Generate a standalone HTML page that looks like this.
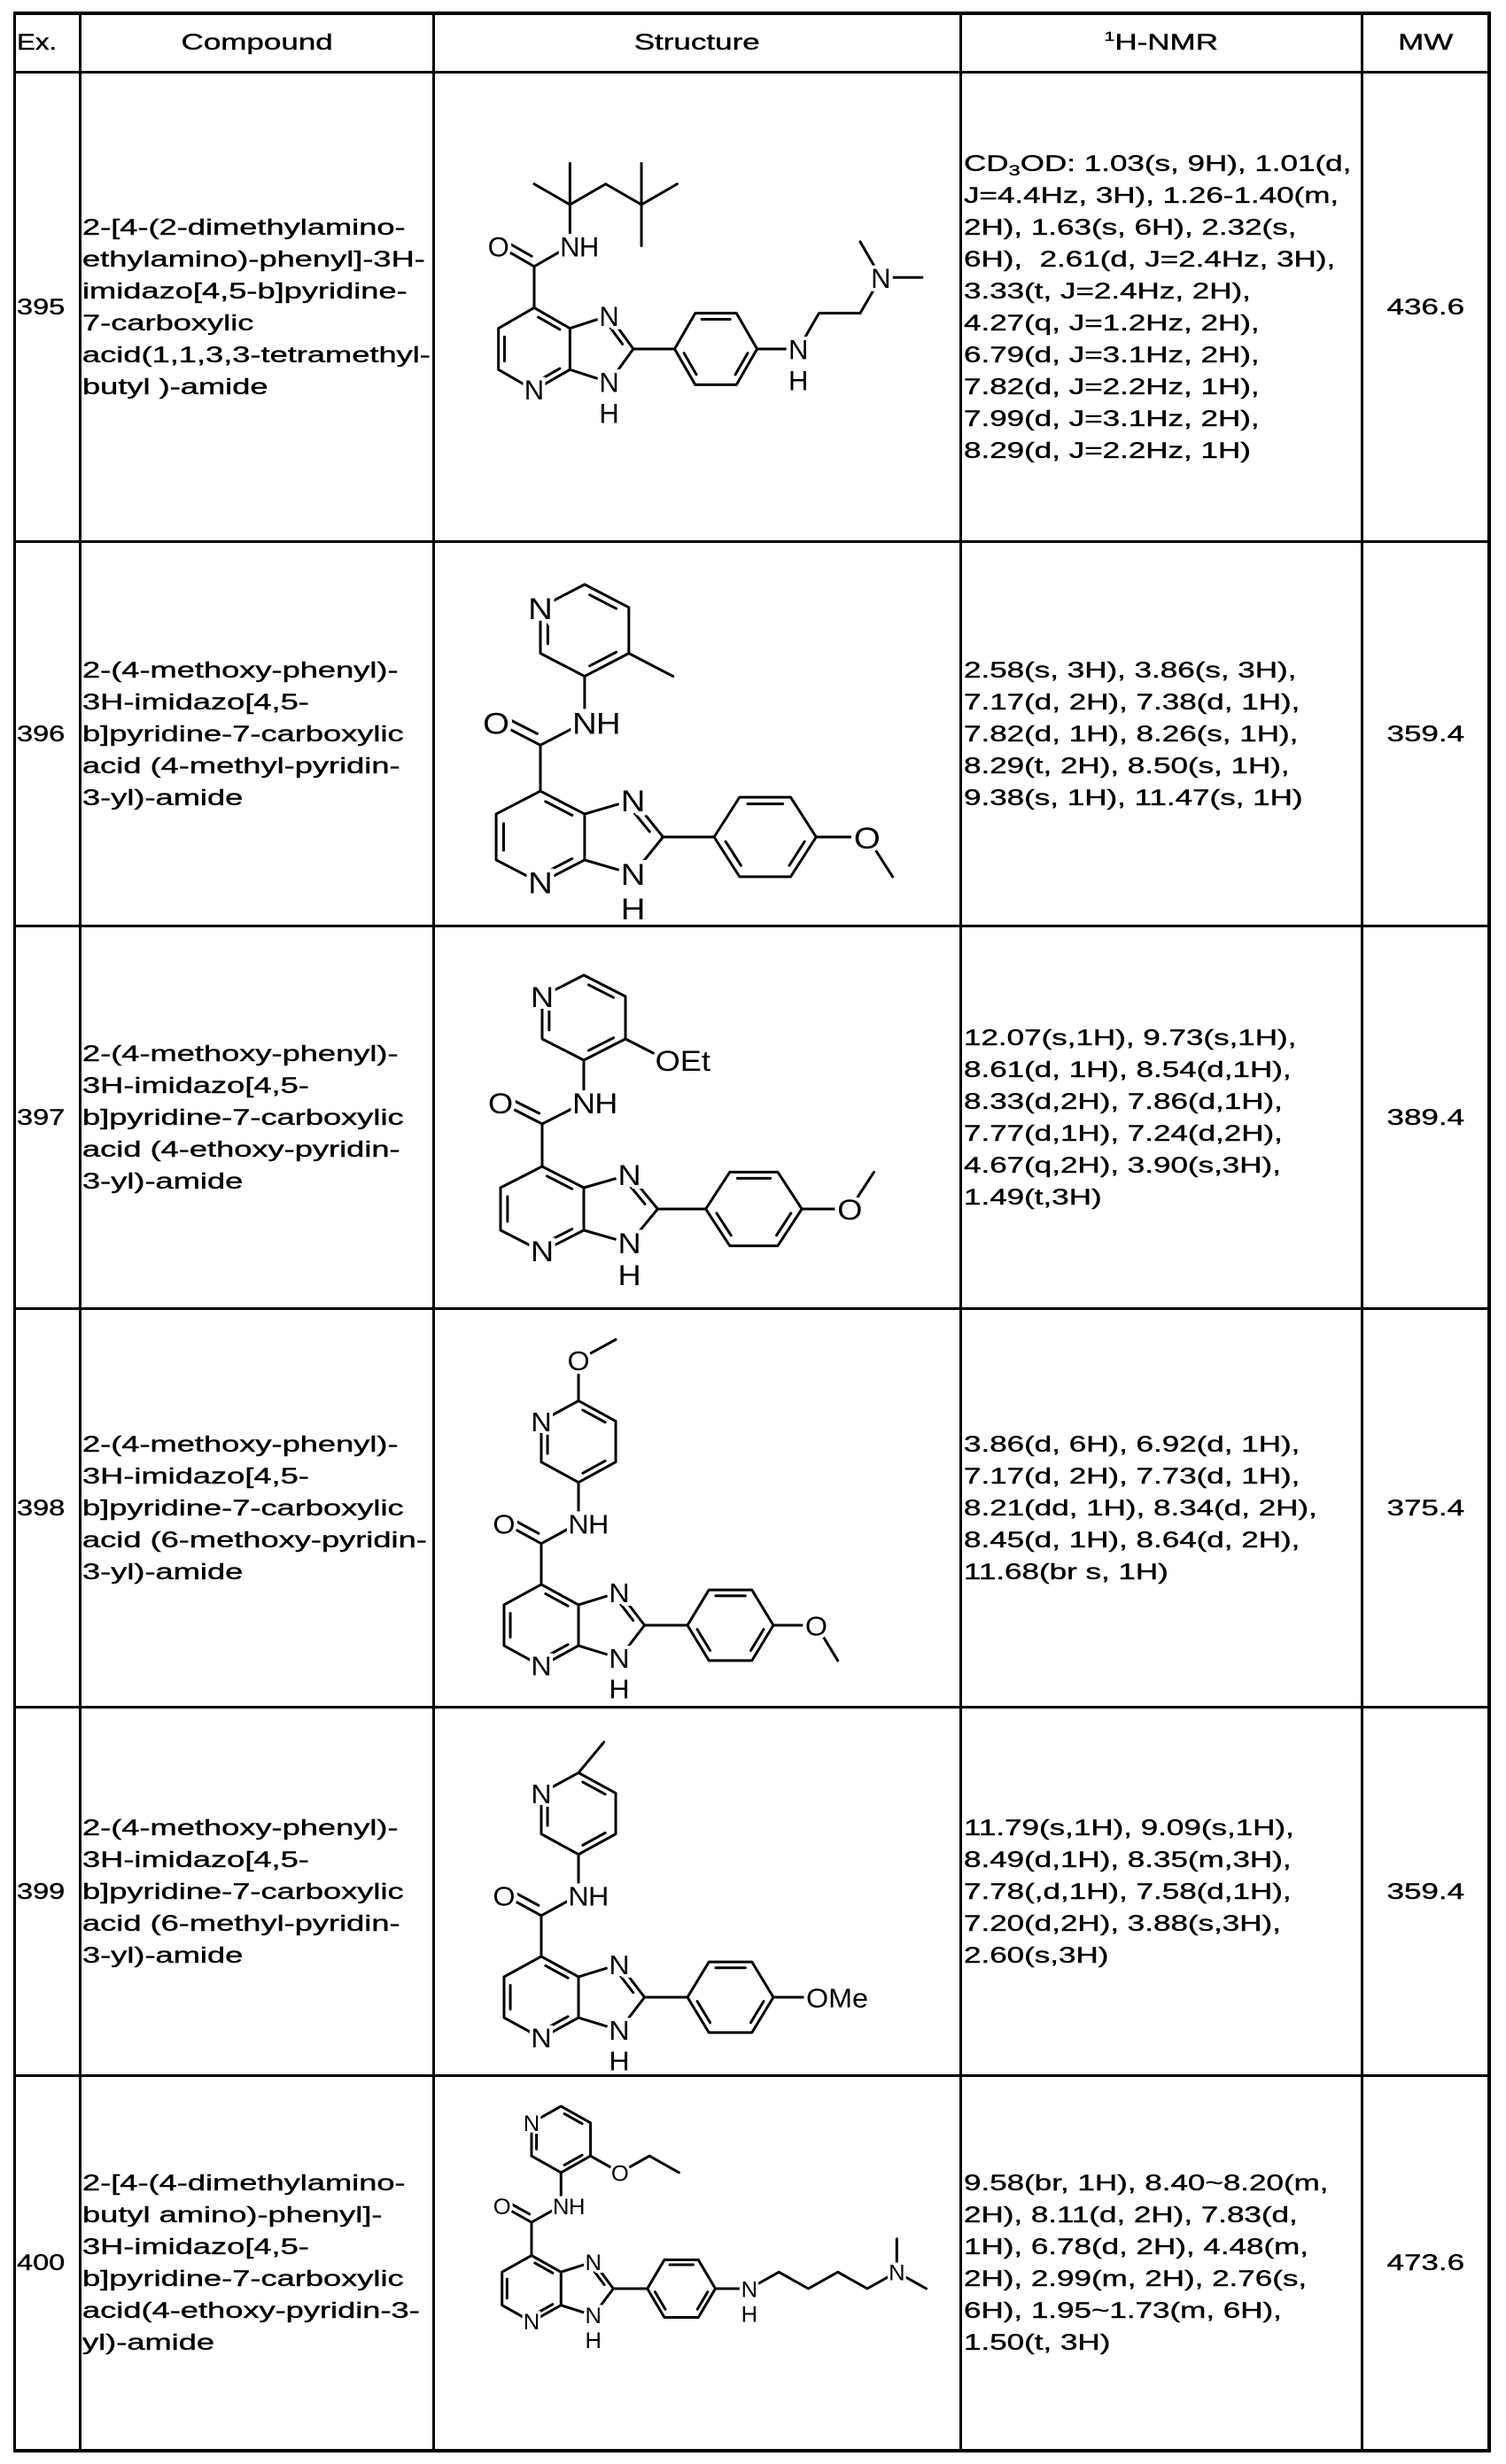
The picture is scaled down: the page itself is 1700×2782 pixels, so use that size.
<!DOCTYPE html>
<html><head><meta charset="utf-8">
<style>
html,body{margin:0;padding:0;background:#fff;}
body{width:1700px;height:2782px;position:relative;overflow:hidden;font-family:"Liberation Sans",sans-serif;color:#000;}
.h{position:absolute;height:3px;background:#000;}
.v{position:absolute;width:3px;background:#000;}
.c{position:absolute;display:flex;align-items:center;}
.t{font-size:25px;line-height:36px;white-space:nowrap;transform-origin:left center;-webkit-text-stroke:0.4px #000;}
.l .t{transform:scaleX(1.45);}
.n .t{transform:scaleX(1.4);}
.m{justify-content:center;}
.m .t{transform:scaleX(1.4);transform-origin:center center;}
sub{font-size:17px;vertical-align:-5px;line-height:0;}
sup{font-size:15px;vertical-align:10px;line-height:0;}
svg{position:absolute;left:0;top:0;}
svg path{fill:none;stroke:#000;stroke-width:3;vector-effect:non-scaling-stroke;stroke-linecap:round;stroke-linejoin:round;}
svg circle{fill:#fff;stroke:none;}
svg text{font-family:"Liberation Sans",sans-serif;font-size:32px;fill:#000;stroke:#fff;stroke-width:8px;paint-order:stroke;text-anchor:middle;}
</style></head><body>

<div class="h" style="left:16px;width:1666px;top:13px;height:4px"></div>
<div class="h" style="left:16px;width:1666px;top:80px"></div>
<div class="h" style="left:16px;width:1666px;top:610px"></div>
<div class="h" style="left:16px;width:1666px;top:1044px"></div>
<div class="h" style="left:16px;width:1666px;top:1476px"></div>
<div class="h" style="left:16px;width:1666px;top:1926px"></div>
<div class="h" style="left:16px;width:1666px;top:2342px"></div>
<div class="h" style="left:16px;width:1666px;top:2765px;height:4px"></div>
<div class="v" style="left:15px;top:13px;height:2756px"></div>
<div class="v" style="left:89px;top:13px;height:2756px"></div>
<div class="v" style="left:488px;top:13px;height:2756px"></div>
<div class="v" style="left:1083px;top:13px;height:2756px"></div>
<div class="v" style="left:1536px;top:13px;height:2756px"></div>
<div class="v" style="left:1679px;top:13px;height:2756px;width:4px"></div>

<div class="c l" style="left:19px;top:16px;width:70px;height:64px"><div class="t" style="transform:scaleX(1.25)">Ex.</div></div>
<div class="c m" style="left:92px;top:16px;width:396px;height:64px"><div class="t">Compound</div></div>
<div class="c m" style="left:491px;top:16px;width:592px;height:64px"><div class="t">Structure</div></div>
<div class="c m" style="left:1086px;top:16px;width:450px;height:64px"><div class="t"><sup>1</sup>H-NMR</div></div>
<div class="c m" style="left:1539px;top:16px;width:140px;height:64px"><div class="t">MW</div></div>

<!-- 395 -->
<div class="c l" style="left:19px;top:83px;height:527px"><div class="t" style="transform:scaleX(1.3)">395</div></div>
<div class="c l" style="left:93px;top:83px;height:527px"><div class="t">2-[4-(2-dimethylamino-<br>ethylamino)-phenyl]-3H-<br>imidazo[4,5-b]pyridine-<br>7-carboxylic<br>acid(1,1,3,3-tetramethyl-<br>butyl )-amide</div></div>
<div class="c n" style="left:1088px;top:83px;height:527px"><div class="t">CD<sub>3</sub>OD: 1.03(s, 9H), 1.01(d,<br>J=4.4Hz, 3H), 1.26-1.40(m,<br>2H), 1.63(s, 6H), 2.32(s,<br>6H), &nbsp;2.61(d, J=2.4Hz, 3H),<br>3.33(t, J=2.4Hz, 2H),<br>4.27(q, J=1.2Hz, 2H),<br>6.79(d, J=3.1Hz, 2H),<br>7.82(d, J=2.2Hz, 1H),<br>7.99(d, J=3.1Hz, 2H),<br>8.29(d, J=2.2Hz, 1H)</div></div>
<div class="c m" style="left:1539px;top:83px;width:140px;height:527px"><div class="t">436.6</div></div>

<!-- 396 -->
<div class="c l" style="left:19px;top:613px;height:431px"><div class="t" style="transform:scaleX(1.3)">396</div></div>
<div class="c l" style="left:93px;top:613px;height:431px"><div class="t">2-(4-methoxy-phenyl)-<br>3H-imidazo[4,5-<br>b]pyridine-7-carboxylic<br>acid (4-methyl-pyridin-<br>3-yl)-amide</div></div>
<div class="c n" style="left:1088px;top:613px;height:431px"><div class="t">2.58(s, 3H), 3.86(s, 3H),<br>7.17(d, 2H), 7.38(d, 1H),<br>7.82(d, 1H), 8.26(s, 1H),<br>8.29(t, 2H), 8.50(s, 1H),<br>9.38(s, 1H), 11.47(s, 1H)</div></div>
<div class="c m" style="left:1539px;top:613px;width:140px;height:431px"><div class="t">359.4</div></div>

<!-- 397 -->
<div class="c l" style="left:19px;top:1047px;height:429px"><div class="t" style="transform:scaleX(1.3)">397</div></div>
<div class="c l" style="left:93px;top:1047px;height:429px"><div class="t">2-(4-methoxy-phenyl)-<br>3H-imidazo[4,5-<br>b]pyridine-7-carboxylic<br>acid (4-ethoxy-pyridin-<br>3-yl)-amide</div></div>
<div class="c n" style="left:1088px;top:1047px;height:429px"><div class="t">12.07(s,1H), 9.73(s,1H),<br>8.61(d, 1H), 8.54(d,1H),<br>8.33(d,2H), 7.86(d,1H),<br>7.77(d,1H), 7.24(d,2H),<br>4.67(q,2H), 3.90(s,3H),<br>1.49(t,3H)</div></div>
<div class="c m" style="left:1539px;top:1047px;width:140px;height:429px"><div class="t">389.4</div></div>

<!-- 398 -->
<div class="c l" style="left:19px;top:1479px;height:447px"><div class="t" style="transform:scaleX(1.3)">398</div></div>
<div class="c l" style="left:93px;top:1479px;height:447px"><div class="t">2-(4-methoxy-phenyl)-<br>3H-imidazo[4,5-<br>b]pyridine-7-carboxylic<br>acid (6-methoxy-pyridin-<br>3-yl)-amide</div></div>
<div class="c n" style="left:1088px;top:1479px;height:447px"><div class="t">3.86(d, 6H), 6.92(d, 1H),<br>7.17(d, 2H), 7.73(d, 1H),<br>8.21(dd, 1H), 8.34(d, 2H),<br>8.45(d, 1H), 8.64(d, 2H),<br>11.68(br s, 1H)</div></div>
<div class="c m" style="left:1539px;top:1479px;width:140px;height:447px"><div class="t">375.4</div></div>

<!-- 399 -->
<div class="c l" style="left:19px;top:1929px;height:413px"><div class="t" style="transform:scaleX(1.3)">399</div></div>
<div class="c l" style="left:93px;top:1929px;height:413px"><div class="t">2-(4-methoxy-phenyl)-<br>3H-imidazo[4,5-<br>b]pyridine-7-carboxylic<br>acid (6-methyl-pyridin-<br>3-yl)-amide</div></div>
<div class="c n" style="left:1088px;top:1929px;height:413px"><div class="t">11.79(s,1H), 9.09(s,1H),<br>8.49(d,1H), 8.35(m,3H),<br>7.78(,d,1H), 7.58(d,1H),<br>7.20(d,2H), 3.88(s,3H),<br>2.60(s,3H)</div></div>
<div class="c m" style="left:1539px;top:1929px;width:140px;height:413px"><div class="t">359.4</div></div>

<!-- 400 -->
<div class="c l" style="left:19px;top:2345px;height:420px"><div class="t" style="transform:scaleX(1.3)">400</div></div>
<div class="c l" style="left:93px;top:2345px;height:420px"><div class="t">2-[4-(4-dimethylamino-<br>butyl amino)-phenyl]-<br>3H-imidazo[4,5-<br>b]pyridine-7-carboxylic<br>acid(4-ethoxy-pyridin-3-<br>yl)-amide</div></div>
<div class="c n" style="left:1088px;top:2345px;height:420px"><div class="t">9.58(br, 1H), 8.40~8.20(m,<br>2H), 8.11(d, 2H), 7.83(d,<br>1H), 6.78(d, 2H), 4.48(m,<br>2H), 2.99(m, 2H), 2.76(s,<br>6H), 1.95~1.73(m, 6H),<br>1.50(t, 3H)</div></div>
<div class="c m" style="left:1539px;top:2345px;width:140px;height:420px"><div class="t">473.6</div></div>

<svg width="1700" height="2782" viewBox="0 0 1700 2782">
<!-- 395 -->
<g transform="translate(603,394) scale(0.97)">
<path d="M0,-48 L41.6,-24 L41.6,24 L0,48 L-41.6,24 L-41.6,-24 Z M4.8,-37.1 L29.8,-22.7 M-34.6,-14 L-34.6,14 M29.8,22.7 L4.8,37.1 M41.6,-24 L87.2,-38.8 L115.4,0 L87.2,38.8 L41.6,24 M88.5,-25 L102.7,-5.6 M115.4,0 L163.4,0 M163.4,0 L187.4,-41.6 L235.4,-41.6 L259.4,0 L235.4,41.6 L187.4,41.6 Z M195,-34.6 L228,-34.6 M174.3,4.8 L188.7,29.8 M248.5,4.8 L234.1,29.8 M0,-48 L0,-96 L-41.6,-120 M-3,-108 L-33,-125 M0,-96 L41.6,-120"/>
<path d="M41.6,-120 L41.6,-168 L41.6,-216 M41.6,-168 L0,-192 M41.6,-168 L83.2,-192 L124.8,-168 M124.8,-168 L124.8,-216 M124.8,-168 L124.8,-120 M124.8,-168 L166.4,-192"/>
<path d="M259.4,0 L307.4,0 L331.4,-41.6 L379.4,-41.6 L403.4,-83.2 M403.4,-83.2 L379.4,-124.8 M403.4,-83.2 L451.4,-83.2"/>
<circle cx="0" cy="48" r="14"/><circle cx="87.2" cy="-38.8" r="14"/><circle cx="87.2" cy="38.8" r="14"/><circle cx="-41.6" cy="-120" r="15"/><circle cx="41.6" cy="-120" r="14"/><circle cx="307.4" cy="0" r="14"/><circle cx="403.4" cy="-83.2" r="14"/>
<text x="0" y="59">N</text><text x="87.2" y="-27">N</text><text x="87.2" y="50">N</text><text x="87.2" y="86">H</text>
<text x="-41.6" y="-108">O</text><text x="41.6" y="-108">N</text><text x="64" y="-108">H</text>
<text x="307.4" y="12">N</text><text x="307.4" y="48">H</text><text x="403.4" y="-71">N</text>
</g>
<!-- 396 -->
<g transform="translate(610,945) scale(1.2,1.08)">
<path d="M0,-48 L41.6,-24 L41.6,24 L0,48 L-41.6,24 L-41.6,-24 Z M4.8,-37.1 L29.8,-22.7 M-34.6,-14 L-34.6,14 M29.8,22.7 L4.8,37.1 M41.6,-24 L87.2,-38.8 L115.4,0 L87.2,38.8 L41.6,24 M88.5,-25 L102.7,-5.6 M115.4,0 L163.4,0 M163.4,0 L187.4,-41.6 L235.4,-41.6 L259.4,0 L235.4,41.6 L187.4,41.6 Z M195,-34.6 L228,-34.6 M174.3,4.8 L188.7,29.8 M248.5,4.8 L234.1,29.8 M0,-48 L0,-96 L-41.6,-120 M-3,-108 L-33,-125 M0,-96 L41.6,-120"/>
<path d="M41.6,-120 L41.6,-168 M41.6,-168 L83.2,-192 L83.2,-240 L41.6,-264 L0,-240 L0,-192 Z M46.4,-253.1 L71.4,-238.7 M7,-230 L7,-202 M46.4,-178.9 L71.4,-193.3 M83.2,-192 L124.8,-168"/>
<path d="M259.4,0 L307.4,0 L331.4,41.6"/>
<circle cx="0" cy="48" r="14"/><circle cx="87.2" cy="-38.8" r="14"/><circle cx="87.2" cy="38.8" r="14"/><circle cx="-41.6" cy="-120" r="15"/><circle cx="41.6" cy="-120" r="14"/><circle cx="0" cy="-240" r="14"/><circle cx="307.4" cy="0" r="15"/>
<text x="0" y="59">N</text><text x="87.2" y="-27">N</text><text x="87.2" y="50">N</text><text x="87.2" y="86">H</text>
<text x="-41.6" y="-108">O</text><text x="41.6" y="-108">N</text><text x="64" y="-108">H</text>
<text x="0" y="-228">N</text><text x="307.4" y="12">O</text>
</g>
<!-- 397 -->
<g transform="translate(612,1365) scale(1.13,1.0)">
<path d="M0,-48 L41.6,-24 L41.6,24 L0,48 L-41.6,24 L-41.6,-24 Z M4.8,-37.1 L29.8,-22.7 M-34.6,-14 L-34.6,14 M29.8,22.7 L4.8,37.1 M41.6,-24 L87.2,-38.8 L115.4,0 L87.2,38.8 L41.6,24 M88.5,-25 L102.7,-5.6 M115.4,0 L163.4,0 M163.4,0 L187.4,-41.6 L235.4,-41.6 L259.4,0 L235.4,41.6 L187.4,41.6 Z M195,-34.6 L228,-34.6 M174.3,4.8 L188.7,29.8 M248.5,4.8 L234.1,29.8 M0,-48 L0,-96 L-41.6,-120 M-3,-108 L-33,-125 M0,-96 L41.6,-120"/>
<path d="M41.6,-120 L41.6,-168 M41.6,-168 L83.2,-192 L83.2,-240 L41.6,-264 L0,-240 L0,-192 Z M46.4,-253.1 L71.4,-238.7 M7,-230 L7,-202 M46.4,-178.9 L71.4,-193.3 M83.2,-192 L124.8,-168"/>
<path d="M259.4,0 L307.4,0 L331.4,-41.6"/>
<circle cx="0" cy="48" r="14"/><circle cx="87.2" cy="-38.8" r="14"/><circle cx="87.2" cy="38.8" r="14"/><circle cx="-41.6" cy="-120" r="15"/><circle cx="41.6" cy="-120" r="14"/><circle cx="0" cy="-240" r="14"/><circle cx="307.4" cy="0" r="15"/><circle cx="124.8" cy="-168" r="15"/>
<text x="0" y="59">N</text><text x="87.2" y="-27">N</text><text x="87.2" y="50">N</text><text x="87.2" y="86">H</text>
<text x="-41.6" y="-108">O</text><text x="41.6" y="-108">N</text><text x="64" y="-108">H</text>
<text x="0" y="-228">N</text><text x="307.4" y="12">O</text>
<text x="113" y="-156" style="text-anchor:start">OEt</text>
</g>
<!-- 398 -->
<g transform="translate(611,1835) scale(1.01,0.96)">
<path d="M0,-48 L41.6,-24 L41.6,24 L0,48 L-41.6,24 L-41.6,-24 Z M4.8,-37.1 L29.8,-22.7 M-34.6,-14 L-34.6,14 M29.8,22.7 L4.8,37.1 M41.6,-24 L87.2,-38.8 L115.4,0 L87.2,38.8 L41.6,24 M88.5,-25 L102.7,-5.6 M115.4,0 L163.4,0 M163.4,0 L187.4,-41.6 L235.4,-41.6 L259.4,0 L235.4,41.6 L187.4,41.6 Z M195,-34.6 L228,-34.6 M174.3,4.8 L188.7,29.8 M248.5,4.8 L234.1,29.8 M0,-48 L0,-96 L-41.6,-120 M-3,-108 L-33,-125 M0,-96 L41.6,-120"/>
<path d="M41.6,-120 L41.6,-168 M41.6,-168 L83.2,-192 L83.2,-240 L41.6,-264 L0,-240 L0,-192 Z M46.4,-253.1 L71.4,-238.7 M7,-230 L7,-202 M46.4,-178.9 L71.4,-193.3 M41.6,-264 L41.6,-312 L83.2,-336"/>
<path d="M259.4,0 L307.4,0 L331.4,41.6"/>
<circle cx="0" cy="48" r="14"/><circle cx="87.2" cy="-38.8" r="14"/><circle cx="87.2" cy="38.8" r="14"/><circle cx="-41.6" cy="-120" r="15"/><circle cx="41.6" cy="-120" r="14"/><circle cx="0" cy="-240" r="14"/><circle cx="307.4" cy="0" r="15"/><circle cx="41.6" cy="-312" r="15"/>
<text x="0" y="59">N</text><text x="87.2" y="-27">N</text><text x="87.2" y="50">N</text><text x="87.2" y="86">H</text>
<text x="-41.6" y="-108">O</text><text x="41.6" y="-108">N</text><text x="64" y="-108">H</text>
<text x="0" y="-228">N</text><text x="307.4" y="12">O</text><text x="41.6" y="-300">O</text>
</g>
<!-- 399 -->
<g transform="translate(611,2255) scale(1.01,0.96)">
<path d="M0,-48 L41.6,-24 L41.6,24 L0,48 L-41.6,24 L-41.6,-24 Z M4.8,-37.1 L29.8,-22.7 M-34.6,-14 L-34.6,14 M29.8,22.7 L4.8,37.1 M41.6,-24 L87.2,-38.8 L115.4,0 L87.2,38.8 L41.6,24 M88.5,-25 L102.7,-5.6 M115.4,0 L163.4,0 M163.4,0 L187.4,-41.6 L235.4,-41.6 L259.4,0 L235.4,41.6 L187.4,41.6 Z M195,-34.6 L228,-34.6 M174.3,4.8 L188.7,29.8 M248.5,4.8 L234.1,29.8 M0,-48 L0,-96 L-41.6,-120 M-3,-108 L-33,-125 M0,-96 L41.6,-120"/>
<path d="M41.6,-120 L41.6,-168 M41.6,-168 L83.2,-192 L83.2,-240 L41.6,-264 L0,-240 L0,-192 Z M46.4,-253.1 L71.4,-238.7 M7,-230 L7,-202 M46.4,-178.9 L71.4,-193.3 M41.6,-264 L70,-300"/>
<path d="M259.4,0 L298,0"/>
<circle cx="0" cy="48" r="14"/><circle cx="87.2" cy="-38.8" r="14"/><circle cx="87.2" cy="38.8" r="14"/><circle cx="-41.6" cy="-120" r="15"/><circle cx="41.6" cy="-120" r="14"/><circle cx="0" cy="-240" r="14"/>
<text x="0" y="59">N</text><text x="87.2" y="-27">N</text><text x="87.2" y="50">N</text><text x="87.2" y="86">H</text>
<text x="-41.6" y="-108">O</text><text x="41.6" y="-108">N</text><text x="64" y="-108">H</text>
<text x="0" y="-228">N</text><text x="296" y="12" style="text-anchor:start">OMe</text>
</g>
<!-- 400 -->
<g transform="translate(600,2584) scale(0.8,0.78)">
<path d="M0,-48 L41.6,-24 L41.6,24 L0,48 L-41.6,24 L-41.6,-24 Z M4.8,-37.1 L29.8,-22.7 M-34.6,-14 L-34.6,14 M29.8,22.7 L4.8,37.1 M41.6,-24 L87.2,-38.8 L115.4,0 L87.2,38.8 L41.6,24 M88.5,-25 L102.7,-5.6 M115.4,0 L163.4,0 M163.4,0 L187.4,-41.6 L235.4,-41.6 L259.4,0 L235.4,41.6 L187.4,41.6 Z M195,-34.6 L228,-34.6 M174.3,4.8 L188.7,29.8 M248.5,4.8 L234.1,29.8 M0,-48 L0,-96 L-41.6,-120 M-3,-108 L-33,-125 M0,-96 L41.6,-120"/>
<path d="M41.6,-120 L41.6,-168 M41.6,-168 L83.2,-192 L83.2,-240 L41.6,-264 L0,-240 L0,-192 Z M46.4,-253.1 L71.4,-238.7 M7,-230 L7,-202 M46.4,-178.9 L71.4,-193.3 M83.2,-192 L124.8,-168 L166.4,-192 L208,-168"/>
<path d="M259.4,0 L307.4,0 L349,-24 L390.6,0 L432.2,-24 L473.8,0 L515.4,-24 M515.4,-24 L515.4,-72 M515.4,-24 L557,0"/>
<circle cx="0" cy="48" r="14"/><circle cx="87.2" cy="-38.8" r="14"/><circle cx="87.2" cy="38.8" r="14"/><circle cx="-41.6" cy="-120" r="15"/><circle cx="41.6" cy="-120" r="14"/><circle cx="0" cy="-240" r="14"/><circle cx="124.8" cy="-168" r="15"/><circle cx="307.4" cy="0" r="14"/><circle cx="515.4" cy="-24" r="14"/>
<text x="0" y="59">N</text><text x="87.2" y="-27">N</text><text x="87.2" y="50">N</text><text x="87.2" y="86">H</text>
<text x="-41.6" y="-108">O</text><text x="41.6" y="-108">N</text><text x="64" y="-108">H</text>
<text x="0" y="-228">N</text><text x="124.8" y="-156">O</text>
<text x="307.4" y="12">N</text><text x="307.4" y="48">H</text><text x="515.4" y="-12">N</text>
</g>
</svg>
</body></html>
